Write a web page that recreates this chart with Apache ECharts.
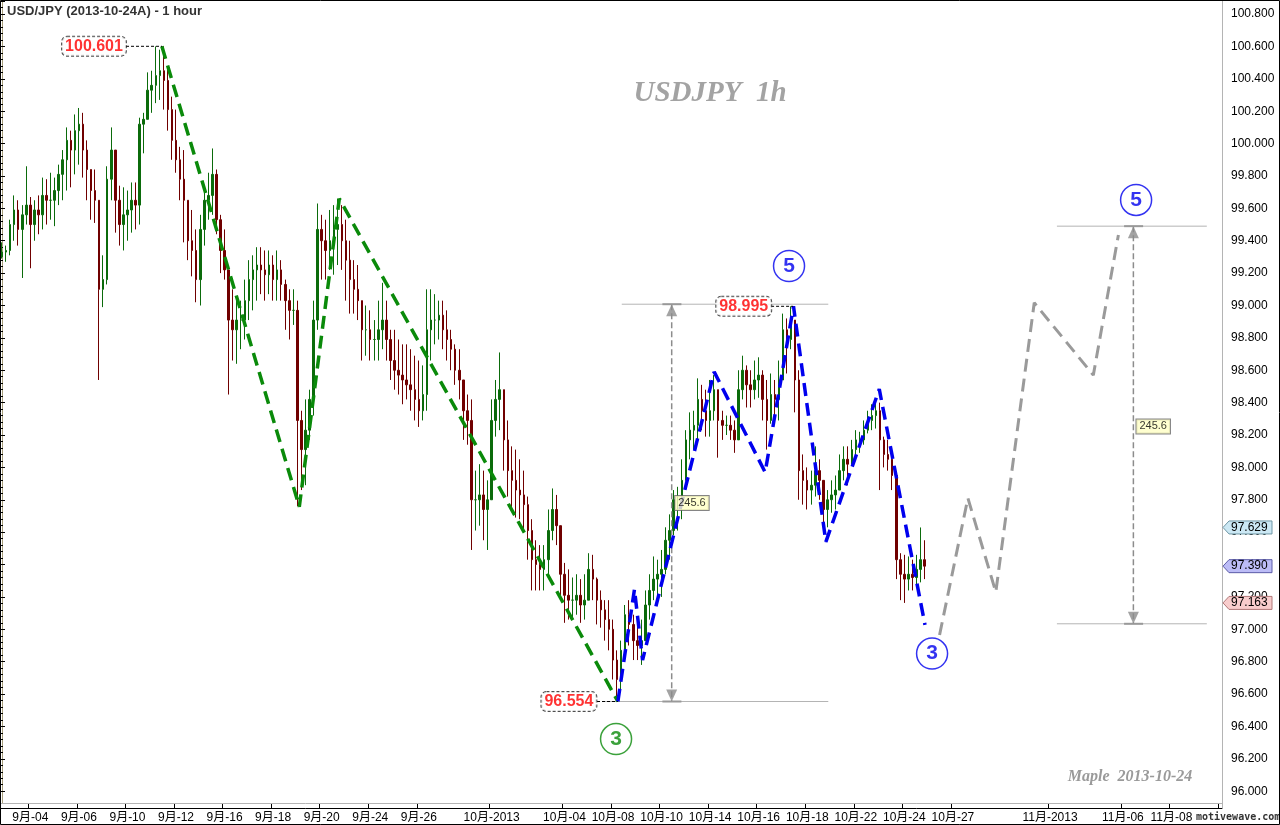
<!DOCTYPE html>
<html>
<head>
<meta charset="utf-8">
<title>USD/JPY (2013-10-24A) - 1 hour</title>
<script src="https://cdn.jsdelivr.net/npm/echarts@6/dist/echarts.min.js"></script>
<style>
html,body{margin:0;padding:0;background:#fff;}
#chart{width:1280px;height:825px;}
</style>
</head>
<body>
<div id="chart"></div>
<script>
// ---------------- data (4-hour bars) ----------------
const tradingDays = ['09-03','09-04','09-05','09-06','09-09','09-10','09-11','09-12','09-13','09-16','09-17','09-18','09-19','09-20','09-23','09-24','09-25','09-26','09-27','09-30',
  '10-01','10-02','10-03','10-04','10-07','10-08','10-09','10-10','10-11','10-14','10-15','10-16','10-17','10-18','10-21','10-22','10-23','10-24','10-25','10-28','10-29','10-30','10-31',
  '11-01','11-04','11-05','11-06','11-07','11-08','11-11','11-12'];
const slotHours = ['00','04','08','12','16','20'];

const tickDays  = ['09-04','09-06','09-10','09-12','09-16','09-18','09-20','09-24','09-26','10-01','10-04','10-08','10-10','10-14','10-16','10-18','10-22','10-24','10-28','11-01','11-06','11-08','11-12'];
const tickTexts = ['9月-04','9月-06','9月-10','9月-12','9月-16','9月-18','9月-20','9月-24','9月-26','10月-2013','10月-04','10月-08','10月-10','10月-14','10月-16','10月-18','10月-22','10月-24','10月-27','11月-2013','11月-06','11月-08',''];

const firstOpen = 99.30;
const closes = [
 99.33,99.34,99.50,99.59,99.47,99.56,99.62,99.50,99.59,99.56,
 99.68,99.65,99.65,99.71,99.81,99.90,100.02,99.96,100.08,100.12,
 99.96,99.84,99.71,99.65,99.10,99.16,99.78,99.96,99.65,99.50,
 99.56,99.59,99.65,99.62,100.12,100.15,100.33,100.36,100.42,100.45,
 100.39,100.21,100.02,99.90,99.78,99.65,99.40,99.34,99.16,99.47,
 99.65,99.68,99.81,99.53,99.34,99.22,98.91,98.85,98.91,98.91,
 99.03,99.16,99.22,99.25,99.22,99.19,99.25,99.16,99.22,99.13,
 99.03,98.97,98.97,98.29,98.11,98.23,98.42,98.91,99.47,99.40,
 99.34,99.40,99.47,99.50,99.40,99.28,99.16,99.10,99.03,98.85,
 98.85,98.79,98.79,98.85,98.91,98.79,98.66,98.60,98.57,98.54,
 98.51,98.48,98.42,98.35,98.45,98.85,98.91,98.91,98.94,98.85,
 98.79,98.73,98.60,98.54,98.35,98.29,97.80,97.80,97.83,97.74,
 97.80,98.29,98.42,98.48,98.17,97.98,97.92,97.86,97.83,97.77,
 97.61,97.43,97.40,97.37,97.43,97.61,97.74,97.64,97.34,97.21,
 97.18,97.18,97.21,97.15,97.18,97.37,97.31,97.18,97.12,97.06,
 97.00,96.81,96.69,96.87,97.09,97.03,96.93,96.90,96.93,97.15,
 97.24,97.31,97.34,97.37,97.55,97.61,97.80,97.80,97.92,98.17,
 98.23,98.26,98.42,98.35,98.29,98.35,98.48,98.29,98.26,98.26,
 98.23,98.17,98.48,98.60,98.51,98.48,98.54,98.57,98.42,98.29,
 98.45,98.42,98.54,98.85,98.79,98.91,98.54,97.98,97.92,97.86,
 97.89,97.98,97.92,97.74,97.80,97.83,97.86,97.98,98.05,98.02,
 98.11,98.17,98.17,98.23,98.29,98.32,98.35,98.17,98.08,98.05,
 97.95,97.43,97.34,97.31,97.34,97.32,97.37,97.43,97.39];
const highs = [
 99.39,99.37,99.53,99.68,99.65,99.62,99.86,99.67,99.65,99.68,
 99.79,99.78,99.82,99.79,99.87,99.96,100.10,100.08,100.18,100.22,
 100.19,100.02,99.84,99.84,99.65,99.31,99.86,100.10,99.87,99.74,
 99.73,99.71,99.76,99.76,100.16,100.19,100.44,100.45,100.60,100.58,
 100.601,100.47,100.29,100.21,99.98,99.96,99.63,99.59,99.47,99.56,
 99.74,99.82,99.97,99.84,99.56,99.47,99.22,99.10,99.05,99.03,
 99.16,99.28,99.31,99.36,99.36,99.34,99.34,99.31,99.34,99.28,
 99.16,99.10,99.10,99.03,98.35,98.42,98.48,99.03,99.63,99.56,
 99.53,99.59,99.62,99.66,99.62,99.53,99.40,99.28,99.25,99.03,
 99.00,98.97,98.91,99.03,99.14,99.03,98.85,98.85,98.79,98.76,
 98.76,98.73,98.69,98.66,98.63,99.10,99.10,99.07,99.03,99.03,
 98.97,98.85,98.76,98.73,98.54,98.45,98.42,97.98,98.02,97.98,
 97.92,98.42,98.54,98.71,98.48,98.29,98.13,98.11,98.05,97.98,
 97.82,97.68,97.55,97.52,97.52,97.74,97.87,97.83,97.55,97.41,
 97.37,97.32,97.34,97.31,97.34,97.47,97.46,97.32,97.24,97.18,
 97.18,97.06,96.87,96.93,97.15,97.18,97.09,97.03,97.06,97.24,
 97.34,97.45,97.43,97.49,97.63,97.71,97.86,97.88,98.05,98.23,
 98.34,98.35,98.55,98.51,98.48,98.54,98.57,98.42,98.35,98.32,
 98.32,98.29,98.60,98.69,98.63,98.60,98.66,98.68,98.60,98.54,
 98.58,98.54,98.66,98.95,98.92,98.995,98.91,98.60,98.08,98.00,
 97.98,98.13,98.05,97.92,97.86,97.92,97.95,98.08,98.13,98.13,
 98.17,98.23,98.22,98.29,98.35,98.39,98.42,98.40,98.19,98.17,
 98.11,97.92,97.47,97.46,97.45,97.43,97.46,97.629,97.55];
const lows = [
 99.29,99.27,99.31,99.40,99.37,99.17,99.50,99.23,99.40,99.44,
 99.47,99.50,99.53,99.49,99.62,99.65,99.71,99.73,99.81,99.87,
 99.79,99.65,99.53,99.51,98.54,98.99,99.13,99.65,99.45,99.37,
 99.34,99.40,99.45,99.47,99.50,99.94,100.15,100.19,100.25,100.27,
 100.21,100.08,99.90,99.82,99.65,99.39,99.28,99.18,99.02,99.00,
 99.37,99.53,99.56,99.44,99.20,99.16,98.45,98.66,98.64,98.73,
 98.79,98.91,98.97,99.03,99.07,99.03,99.07,99.03,99.03,99.03,
 98.85,98.79,98.88,97.76,97.86,97.89,98.17,98.32,98.85,99.16,
 99.16,99.22,99.19,99.25,99.22,99.03,98.95,98.95,98.91,98.66,
 98.69,98.66,98.66,98.66,98.73,98.66,98.54,98.48,98.45,98.39,
 98.42,98.35,98.29,98.25,98.29,98.35,98.66,98.76,98.79,98.73,
 98.66,98.60,98.51,98.42,98.17,98.14,97.49,97.61,97.64,97.55,
 97.49,97.80,98.19,98.23,97.98,97.82,97.74,97.69,97.68,97.61,
 97.43,97.24,97.24,97.24,97.24,97.31,97.55,97.52,97.18,97.04,
 97.06,97.06,97.09,97.04,97.06,97.24,97.18,97.03,97.01,96.93,
 96.87,96.69,96.554,96.63,96.87,96.90,96.81,96.81,96.78,96.93,
 97.06,97.18,97.20,97.20,97.34,97.43,97.58,97.61,97.68,97.92,
 98.05,98.11,98.17,98.23,98.19,98.19,98.29,98.06,98.17,98.20,
 98.17,98.09,98.17,98.42,98.37,98.37,98.42,98.43,98.29,98.11,
 98.27,98.27,98.29,98.60,98.58,98.73,98.34,97.80,97.77,97.74,
 97.77,97.82,97.80,97.63,97.63,97.72,97.74,97.88,97.92,97.89,
 98.05,98.08,98.09,98.14,98.21,98.23,98.24,97.86,98.00,97.98,
 97.86,97.31,97.18,97.163,97.24,97.24,97.27,97.29,97.31];

// ---------------- annotations (x = bar index, y = price) ----------------
const greenWave = [[39.5,100.601],[73.47,97.757],[83.36,99.66],[152.2,96.554]];
const blueWave  = [[152.2,96.554],[156.3,97.247],[158.3,96.81],[176.0,98.59],[188.6,97.97],[195.6,98.995],[203.6,97.54],[216.8,98.483],[228.1,97.027]];
const grayProjection = [[231.7,96.965],[238.7,97.81],[245.6,97.23],[255.1,99.017],[269.7,98.57],[275.9,99.436]];
const levelLines = [
  [[153.16,99.008],[204.2,99.008]],
  [[148.3,96.554],[204.2,96.554]],
  [[260.7,99.49],[297.75,99.49]],
  [[260.7,97.034],[297.75,97.034]]
];
const measureX = [165.5, 279.6];
const measureTop = [99.008, 99.49];
const measureBottom = [96.554, 97.034];
const measureText = ['245.6','245.6'];
const measureLabelPos = [[170.5,97.78],[284.5,98.253]];
const priceBoxes = [[22.73,100.601,'100.601'],[183.3,98.995,'98.995'],[140.1,96.554,'96.554']];
const priceConnectors = [
  [[30.64,100.601],[39.54,100.601]],
  [[190.06,98.995],[195.5,98.995]],
  [[147.05,96.554],[152.2,96.554]]
];
const waveMarks = [[151.75,96.322,'3','#0a8a0a'],[194.5,99.244,'5','#0000ee'],[229.85,96.85,'3','#0000ee'],[280.27,99.652,'5','#0000ee']];
const tagVals = [97.629, 97.390, 97.163];
const tagFills = ['#cce8f4','#bcbcf6','#f8cccc'];
const tagStrokes = ['#6f97a6','#5c5ca8','#b07878'];

// ---------------- build ----------------
const categories = ['09-02 20:00'];
tradingDays.forEach(d => slotHours.forEach(h => categories.push(d + ' ' + h + ':00')));
categories.length = 302;
const tickMap = {};
tickDays.forEach((d, i) => { tickMap[d + ' 00:00'] = tickTexts[i]; });
const isTick = (idx, val) => Object.prototype.hasOwnProperty.call(tickMap, categories[idx]);

const ohlc = closes.map((c, i) => {
  const o = i === 0 ? firstOpen : closes[i - 1];
  return [o, c, Math.min(lows[i], o, c), Math.max(highs[i], o, c)];
});

const FONT = "'Liberation Sans', Arial, 'Noto Sans CJK SC', sans-serif";
const SERIF = "'Liberation Serif', 'Times New Roman', serif";
const chart = echarts.init(document.getElementById('chart'), null, {renderer: 'canvas', width: 1280, height: 825});

function lineSeries(data, color, width, type, z) {
  return {type: 'line', xAxisIndex: 1, yAxisIndex: 0, data: data, symbol: 'none', silent: true, z: z,
    lineStyle: {color: color, width: width, type: type, cap: 'butt'}};
}

const series = [];
series.push({
  type: 'candlestick', xAxisIndex: 0, yAxisIndex: 0, data: ohlc, barWidth: 2, z: 2, silent: true,
  itemStyle: {color: '#0b6b0b', color0: '#700000', borderColor: '#0b6b0b', borderColor0: '#700000', borderWidth: 1}
});
levelLines.forEach(seg => series.push(lineSeries(seg, '#b4b4b4', 1, 'solid', 3)));
measureX.forEach((x, i) => {
  series.push(lineSeries([[x, measureTop[i]], [x, measureBottom[i]]], '#8c8c8c', 1.5, [6, 3], 3));
  series.push(lineSeries([[x - 2.3, measureTop[i]], [x + 2.4, measureTop[i]]], '#999999', 2, 'solid', 3));
  series.push(lineSeries([[x - 2.3, measureBottom[i]], [x + 2.4, measureBottom[i]]], '#999999', 2, 'solid', 3));
  series.push({type: 'scatter', xAxisIndex: 1, yAxisIndex: 0, silent: true, z: 4,
    symbol: 'triangle', symbolSize: [11, 12], itemStyle: {color: '#8c8c8c'},
    data: [{value: [x, measureTop[i] - 0.037], symbolRotate: 0}, {value: [x, measureBottom[i] + 0.037], symbolRotate: 180}]});
});
series.push(lineSeries(greenWave, '#0a8a0a', 3.5, [13, 7], 5));
series.push(lineSeries(blueWave, '#0000ee', 3.5, [13, 7], 5));
series.push(lineSeries(grayProjection, '#9a9a9a', 3, [13, 7], 5));
priceConnectors.forEach(seg => series.push(lineSeries(seg, '#000000', 1, [3, 2], 5)));
series.push({type: 'scatter', xAxisIndex: 1, yAxisIndex: 0, silent: true, z: 6, symbolSize: 1,
  itemStyle: {color: 'rgba(0,0,0,0)'},
  data: measureLabelPos.map((p, i) => ({value: p, name: measureText[i]})),
  label: {show: true, position: 'inside', formatter: p => p.name, color: '#000', fontSize: 11, fontFamily: FONT,
    backgroundColor: '#ffffc4', borderColor: '#666', borderWidth: 1, padding: [2, 3, 1, 3]}});
series.push({type: 'scatter', xAxisIndex: 1, yAxisIndex: 0, silent: true, z: 6, symbolSize: 1,
  itemStyle: {color: 'rgba(0,0,0,0)'},
  data: priceBoxes.map(p => ({value: [p[0], p[1]], name: p[2]})),
  label: {show: true, position: 'inside', formatter: p => p.name, color: '#ff0000', fontSize: 16, fontWeight: 'bold', fontFamily: FONT,
    backgroundColor: '#ffffff', borderColor: '#222', borderWidth: 1, borderType: [3, 2], borderRadius: 5, padding: [2, 3, 1, 3]}});
waveMarks.forEach(m => series.push({type: 'scatter', xAxisIndex: 1, yAxisIndex: 0, silent: true, z: 7,
  symbol: 'circle', symbolSize: 31, data: [{value: [m[0], m[1]], name: m[2]}],
  itemStyle: {color: '#ffffff', borderColor: m[3], borderWidth: 1.5},
  label: {show: true, position: 'inside', formatter: p => p.name, color: m[3], fontSize: 21, fontWeight: 'bold', fontFamily: FONT}}));

const option = {
  animation: false,
  backgroundColor: '#ffffff',
  grid: [
    {left: 0, right: 58, top: 1, height: 802},
    {left: 0, right: 58, top: 1.13, height: 790.07}
  ],
  xAxis: [
    {type: 'category', gridIndex: 0, data: categories, boundaryGap: true, position: 'bottom', offset: 5,
      axisLine: {show: true, lineStyle: {color: '#000', width: 1}},
      axisTick: {show: true, inside: true, length: 5, interval: isTick, lineStyle: {color: '#000'}},
      axisLabel: {show: true, interval: isTick, formatter: v => (tickMap[v] || ''), fontSize: 12, fontFamily: FONT, color: '#000', margin: 4},
      splitLine: {show: false}},
    {type: 'value', gridIndex: 0, min: -0.5, max: 301.5, show: false},
    {type: 'value', gridIndex: 1, min: 0, max: 1, show: false}
  ],
  yAxis: [
    {type: 'value', gridIndex: 0, min: 95.9271, max: 100.8808, position: 'right', offset: 2,
      axisLine: {show: true, lineStyle: {color: '#a89f7c'}}, axisTick: {show: false}, axisLabel: {show: false}, splitLine: {show: false}},
    {type: 'value', gridIndex: 1, min: 96, max: 100.88, interval: 0.2, position: 'right', offset: 2,
      axisLine: {show: false},
      axisTick: {show: true, length: 5, lineStyle: {color: '#000'}},
      minorTick: {show: true, splitNumber: 5, length: 3, lineStyle: {color: '#000'}},
      axisLabel: {show: true, formatter: v => v.toFixed(3), showMaxLabel: false, fontSize: 12, fontFamily: FONT, color: '#000', margin: 7},
      splitLine: {show: false}, minorSplitLine: {show: false}}
  ],
  series: series
};
chart.setOption(option);

// ---------------- frame, texts, price tags ----------------
const gfx = [
  {type: 'line', shape: {x1: 0, y1: 803.5, x2: 1222.5, y2: 803.5}, style: {stroke: '#b4b4b4', lineWidth: 1}, z: 50, silent: true},
  {type: 'line', shape: {x1: 1222.5, y1: 0, x2: 1222.5, y2: 808}, style: {stroke: '#b4b4b4', lineWidth: 1}, z: 50, silent: true},
  {type: 'rect', shape: {x: 0.5, y: 0.5, width: 1279, height: 824}, style: {fill: null, stroke: '#000', lineWidth: 1}, z: 200, silent: true},
  {type: 'text', x: 7, y: 5, style: {text: 'USD/JPY (2013-10-24A) - 1 hour', font: 'bold 13px ' + FONT, fill: '#333333'}, z: 60, silent: true},
  {type: 'text', x: 710, y: 94, style: {text: 'USDJPY  1h', font: 'italic bold 29px ' + SERIF, fill: '#a3a3a3', textAlign: 'center', textVerticalAlign: 'middle', align: 'center', verticalAlign: 'middle'}, z: 60, silent: true},
  {type: 'text', x: 1130, y: 777, style: {text: 'Maple  2013-10-24', font: 'italic bold 16px ' + SERIF, fill: '#9a9a9a', textAlign: 'center', textVerticalAlign: 'middle', align: 'center', verticalAlign: 'middle'}, z: 60, silent: true},
  {type: 'rect', shape: {x: 1194, y: 810, width: 84, height: 13}, style: {fill: 'rgba(255,255,255,0.8)'}, z: 150, silent: true},
  {type: 'text', x: 1196, y: 817, style: {text: 'motivewave.com', font: 'bold 10px "DejaVu Sans Mono", monospace', fill: '#333333', textVerticalAlign: 'middle', verticalAlign: 'middle'}, z: 151, silent: true}
];
tagVals.forEach((v, i) => {
  const y = chart.convertToPixel({yAxisIndex: 0}, v);
  gfx.push({type: 'polygon', shape: {points: [[1223, y], [1229, y - 6.5], [1272, y - 6.5], [1272, y + 6.5], [1229, y + 6.5]]},
    style: {fill: tagFills[i], stroke: tagStrokes[i], lineWidth: 1}, z: 100, silent: true});
  gfx.push({type: 'text', x: 1231, y: y, style: {text: v.toFixed(3), font: '12px ' + FONT, fill: '#000', textVerticalAlign: 'middle', verticalAlign: 'middle'}, z: 101, silent: true});
});
chart.setOption({graphic: gfx});
</script>
</body>
</html>
